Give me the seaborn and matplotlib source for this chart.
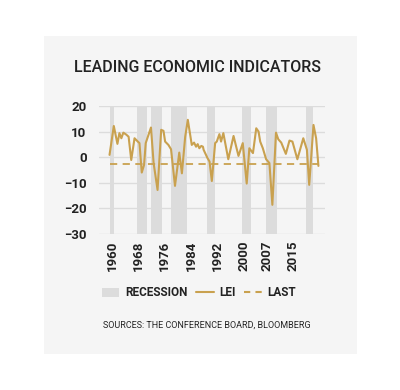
import matplotlib
matplotlib.use("Agg")
import matplotlib.pyplot as plt
import seaborn as sns
import pandas as pd
from matplotlib.patches import Patch, Rectangle
from matplotlib.lines import Line2D

# LEI year-over-year change
years = [1959.2, 1960.5, 1961.6, 1962.2, 1962.8, 1963.4, 1964.3, 1965.0, 1965.8,
         1966.8, 1967.8, 1968.3, 1969.0, 1969.7, 1970.2, 1971.8, 1972.6, 1973.8,
         1974.9, 1975.6, 1976.1, 1977.1, 1977.9, 1979.1, 1980.4, 1981.2, 1982.2,
         1983.0, 1984.2, 1984.9, 1985.5, 1986.0, 1986.5, 1987.1, 1987.6, 1987.8,
         1989.0, 1989.6, 1990.3, 1991.3, 1991.8, 1992.6, 1993.1, 1993.8, 1995.3,
         1996.9, 1998.4, 1999.7, 2000.9, 2001.7, 2002.8, 2003.8, 2004.5, 2005.0,
         2005.8, 2006.8, 2007.8, 2008.7, 2009.8, 2010.5, 2011.4, 2012.8, 2013.9,
         2014.8, 2016.3, 2018.1, 2019.2, 2019.9, 2021.2, 2022.0, 2022.7]
lei = [0.9, 12.2, 5.2, 9.4, 7.4, 9.6, 8.8, 8.0, -1.1,
       7.4, 6.1, 5.5, -6.0, -3.0, 5.5, 11.6, -2.3, -12.8,
       10.7, 10.3, 6.1, 4.8, 3.1, -11.2, 1.8, -6.3, 8.0,
       14.6, 4.8, 5.7, 4.1, 5.1, 3.5, 4.4, 4.1, 2.9,
       -0.4, -1.7, -9.3, 5.5, 6.1, 9.0, 6.1, 9.4, -0.8,
       8.3, 0.5, 5.5, -10.3, 3.5, 1.6, 11.3, 10.0, 6.1,
       3.5, -0.8, -2.3, -18.6, 9.6, 7.0, 5.7, 1.3, 6.5,
       6.1, -0.8, 7.4, 2.9, -10.8, 12.6, 7.4, -3.4]
last_value = -2.6

rec_start = [1959.2, 1967.7, 1971.9, 1977.9, 1988.8, 1999.5, 2006.7, 2018.9]
rec_end = [1960.7, 1970.5, 1975.1, 1982.8, 1991.4, 2002.2, 2010.1, 2021.2]

tick_years = [1960, 1968, 1976, 1984, 1992, 2000, 2007, 2015]

GOLD = "#c9a14f"
REC = "#dcdcdc"
PANEL = "#f5f5f5"
TEXT = "#222222"

sns.set_style("whitegrid", {"axes.facecolor": PANEL, "grid.color": "#dcdcdc",
                            "axes.edgecolor": PANEL})
plt.rcParams["font.family"] = ["Roboto", "Liberation Sans", "DejaVu Sans"]

fig = plt.figure(figsize=(4, 3.9), dpi=100, facecolor="white")
fig.patches.append(Rectangle((44 / 400, 1 - 354 / 390), 313 / 400, 318 / 390,
                             transform=fig.transFigure, facecolor=PANEL,
                             edgecolor="none", zorder=-5))
ax = fig.add_axes([99 / 400, 156 / 390, 226 / 400, 128 / 390])

for s, e in zip(rec_start, rec_end):
    ax.axvspan(s, e, color=REC, lw=0, zorder=1)

df = pd.DataFrame({"year": years, "lei": lei})
sns.lineplot(data=df, x="year", y="lei", color=GOLD, lw=1.5, ax=ax, zorder=3)
ax.hlines(last_value, years[0], years[-1], colors=GOLD, linestyles=(0, (4, 3)),
          lw=1.3, zorder=3)

ax.set_xlim(1956.0, 2024.7)
ax.set_ylim(-30, 20)
ax.set_yticks([20, 10, 0, -10, -20, -30])
ax.set_xticks(tick_years)
ax.set_xticklabels([str(t) for t in tick_years], rotation=90)
ax.grid(axis="x", visible=False)
ax.grid(axis="y", lw=1)
ax.set_xlabel("")
ax.set_ylabel("")
for sp in ax.spines.values():
    sp.set_visible(False)
ax.tick_params(axis="y", pad=9, labelsize=9.5, colors=TEXT, length=0)
ax.tick_params(axis="x", pad=5, labelsize=9.5, colors=TEXT, length=0)
for lab in ax.get_xticklabels() + ax.get_yticklabels():
    lab.set_fontweight("bold")

fig.text(0.4925, 1 - 68 / 390, "LEADING ECONOMIC INDICATORS", ha="center",
         va="center", fontsize=11.5, fontweight="medium", color=TEXT)

handles = [Patch(facecolor=REC, edgecolor="none"),
           Line2D([], [], color=GOLD, lw=1.5),
           Line2D([], [], color=GOLD, lw=1.5, ls=(0, (3, 2.5)))]
leg = fig.legend(handles, ["RECESSION", "LEI", "LAST"], loc="center",
                 bbox_to_anchor=(0.4975, 1 - 293 / 390), ncol=3, frameon=False,
                 handlelength=1.5, handletextpad=0.5, columnspacing=0.7,
                 prop={"weight": "bold", "size": 8.5})
for t in leg.get_texts():
    t.set_color(TEXT)

fig.text(0.5175, 1 - 325 / 390, "SOURCES: THE CONFERENCE BOARD, BLOOMBERG",
         ha="center", va="center", fontsize=6.5, color=TEXT)

fig.savefig("out.png", dpi=100, facecolor="white")
